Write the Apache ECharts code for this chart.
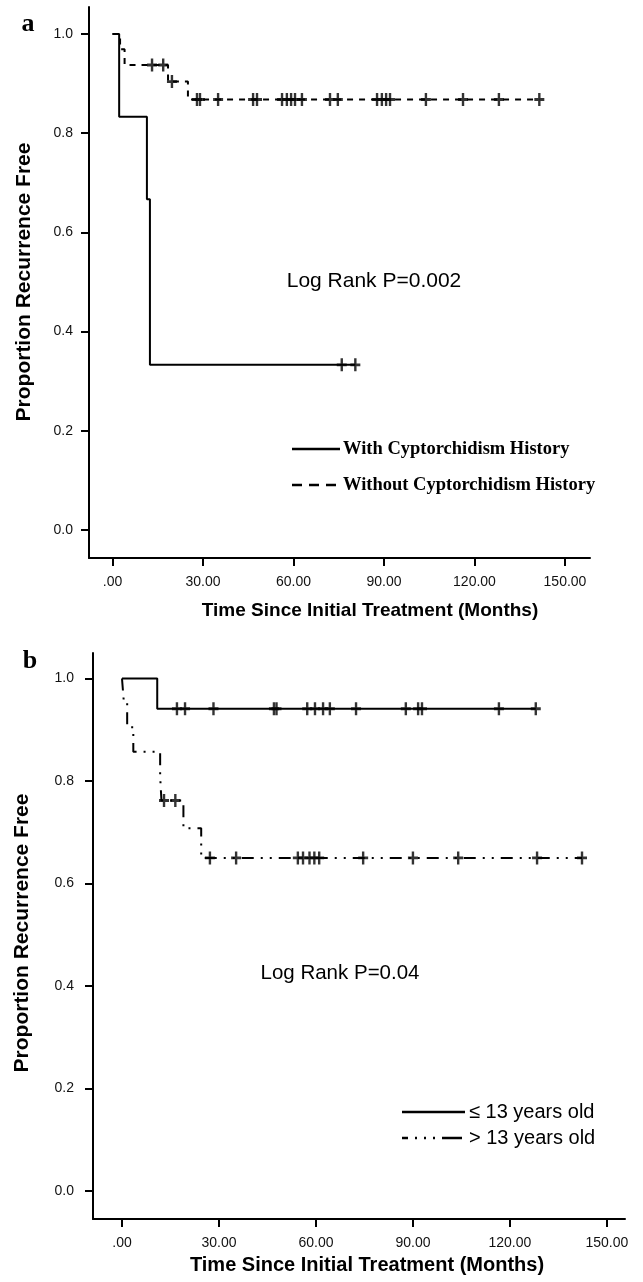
<!DOCTYPE html>
<html><head><meta charset="utf-8">
<script src="https://cdn.jsdelivr.net/npm/echarts@6/dist/echarts.min.js"></script>
<style>html,body{margin:0;padding:0;background:#fff}#c{width:643px;height:1282px}</style>
</head><body><div id="c"></div>
<script>
// ---------- data ----------
const xTicks = [0, 30, 60, 90, 120, 150];
const xTickLabels = ['.00', '30.00', '60.00', '90.00', '120.00', '150.00'];
const yTicks = [0, 0.2, 0.4, 0.6, 0.8, 1.0];
const yTickLabels = ['0.0', '0.2', '0.4', '0.6', '0.8', '1.0'];

// panel a
const aWithTimes = [0, 2.2, 11.4, 12.4, 80.5];
const aWithSurv = [1.0, 0.833, 0.667, 0.333, 0.333];
const aWithCensor = [76, 80.5];
const aWithoutTimes = [0, 2.5, 4.0, 18.4, 25.0, 141.5];
const aWithoutSurv = [1.0, 0.969, 0.9375, 0.904, 0.868, 0.868];
const aWithoutCensor = [13.1, 16.8, 19.7, 28, 29, 35, 46.6, 47.9, 56.2, 57.8, 59.2, 60.5, 62.8, 72.1, 74.7, 87.7, 89.3, 90.7, 92, 103.9, 116.2, 128.1, 141.5];

// panel b
const bYoungTimes = [0, 10.9, 128];
const bYoungSurv = [1.0, 0.941, 0.941];
const bYoungCensor = [17, 19.5, 28.3, 47, 47.8, 57.3, 59.7, 62.2, 64.3, 72.4, 87.8, 91.6, 92.8, 116.6, 128];
const bOldTimes = [0, 0.6, 1.6, 3.5, 11.8, 12.2, 19, 24.5, 142.3];
const bOldSurv = [1.0, 0.952, 0.905, 0.857, 0.810, 0.762, 0.708, 0.650, 0.650];
const bOldCensor = [13, 16.5, 27.2, 35.3, 54.4, 56, 58, 59.5, 61, 74.6, 90, 104, 128.4, 142.3];

const legendA = ['With Cyptorchidism History', 'Without Cyptorchidism History'];
const legendB = ['\u2264 13 years old', '> 13 years old'];

// ---------- helpers ----------
function km(times, surv) { return times.map((t, i) => [t, surv[i]]); }
function stepAt(times, surv, t) {
  let v = surv[0];
  for (let i = 0; i < times.length; i++) { if (times[i] <= t) v = surv[i]; }
  return v;
}
function censorPts(c, times, surv) { return c.map(t => [t, stepAt(times, surv, t)]); }

const PLUS = 'path://M3.8,0H6.2V3.9H10V6.1H6.2V10H3.8V6.1H0V3.9H3.8Z';
const AX = {color: '#000', width: 2};
const FONT = 'Arial, "Liberation Sans", sans-serif';

function xAxis(gi, min, max, margin) {
  return {
    gridIndex: gi, type: 'value', min: min, max: max,
    axisLine: {show: true, onZero: false, lineStyle: AX},
    axisTick: {show: true, length: 8, lineStyle: AX, customValues: xTicks},
    axisLabel: {customValues: xTicks, margin: margin, color: '#111', fontSize: 14, fontFamily: FONT,
      formatter: v => xTickLabels[xTicks.indexOf(v)]},
    splitLine: {show: false}
  };
}
function yAxis(gi, min, max, margin) {
  return {
    gridIndex: gi, type: 'value', min: min, max: max,
    axisLine: {show: true, onZero: false, lineStyle: AX},
    axisTick: {show: true, length: 8, lineStyle: AX, customValues: yTicks},
    axisLabel: {customValues: yTicks, margin: margin, color: '#111', fontSize: 14, fontFamily: FONT,
      formatter: v => yTickLabels[yTicks.indexOf(v)]},
    splitLine: {show: false}
  };
}
function lineSeries(gi, data, type) {
  return {type: 'line', xAxisIndex: gi, yAxisIndex: gi, data: data, step: 'end', showSymbol: false,
    silent: true, lineStyle: {color: '#000', width: 2, type: type}, z: 2};
}
function censorSeries(gi, data) {
  return {type: 'scatter', xAxisIndex: gi, yAxisIndex: gi, data: data, symbol: PLUS, symbolSize: [10, 13],
    silent: true, itemStyle: {color: '#000'}, z: 3};
}
function txt(x, y, text, font, align, rot) {
  return {type: 'text', x: x, y: y, rotation: rot || 0, silent: true,
    style: {text: text, font: font, fill: '#000', align: align || 'center', verticalAlign: 'middle'}};
}
function seg(x1, y, x2, dash) {
  return {type: 'line', silent: true, shape: {x1: x1, y1: y, x2: x2, y2: y},
    style: {stroke: '#000', lineWidth: 2.5, lineDash: dash || null}};
}

const DASH_A = [6, 6];
const DASH_B = [12, 7, 2, 7, 2, 7];
const SERIF = '"Liberation Serif", "Times New Roman", serif';

const option = {
  animation: false,
  backgroundColor: '#fff',
  grid: [
    {left: 89, top: 7, width: 501, height: 551},
    {left: 93, top: 653, width: 532, height: 566}
  ],
  xAxis: [xAxis(0, -7.8, 158.3, 17), xAxis(1, -8.97, 155.6, 17)],
  yAxis: [yAxis(0, -0.0565, 1.0544, 16), yAxis(1, -0.0546, 1.0498, 19)],
  series: [
    lineSeries(0, km(aWithTimes, aWithSurv), 'solid'),
    lineSeries(0, km(aWithoutTimes, aWithoutSurv), DASH_A),
    censorSeries(0, censorPts(aWithCensor, aWithTimes, aWithSurv)),
    censorSeries(0, censorPts(aWithoutCensor, aWithoutTimes, aWithoutSurv)),
    lineSeries(1, km(bYoungTimes, bYoungSurv), 'solid'),
    lineSeries(1, km(bOldTimes, bOldSurv), DASH_B),
    censorSeries(1, censorPts(bYoungCensor, bYoungTimes, bYoungSurv)),
    censorSeries(1, censorPts(bOldCensor, bOldTimes, bOldSurv))
  ],
  graphic: [
    txt(28, 24, 'a', 'bold 26px ' + SERIF),
    txt(30, 661, 'b', 'bold 26px ' + SERIF),
    txt(24, 282, 'Proportion Recurrence Free', 'bold 21px ' + FONT, 'center', Math.PI / 2),
    txt(22, 933, 'Proportion Recurrence Free', 'bold 21px ' + FONT, 'center', Math.PI / 2),
    txt(370, 611, 'Time Since Initial Treatment (Months)', 'bold 19px ' + FONT),
    txt(367, 1265, 'Time Since Initial Treatment (Months)', 'bold 20px ' + FONT),
    txt(374, 281, 'Log Rank P=0.002', '21px ' + FONT),
    txt(340, 973, 'Log Rank P=0.04', '20.5px ' + FONT),
    seg(292, 449, 340), txt(343, 449, legendA[0], 'bold 18.5px ' + SERIF, 'left'),
    seg(292, 485, 340, [10, 7]), txt(343, 485, legendA[1], 'bold 18.5px ' + SERIF, 'left'),
    seg(402, 1112, 465), txt(469, 1112, legendB[0], '20px ' + FONT, 'left'),
    seg(402, 1138, 465, [6, 7, 2, 7, 2, 7, 2, 7, 14, 0]), txt(469, 1138, legendB[1], '20px ' + FONT, 'left')
  ]
};
const chart = echarts.init(document.getElementById('c'), null, {renderer: 'canvas'});
chart.setOption(option);
</script></body></html>
